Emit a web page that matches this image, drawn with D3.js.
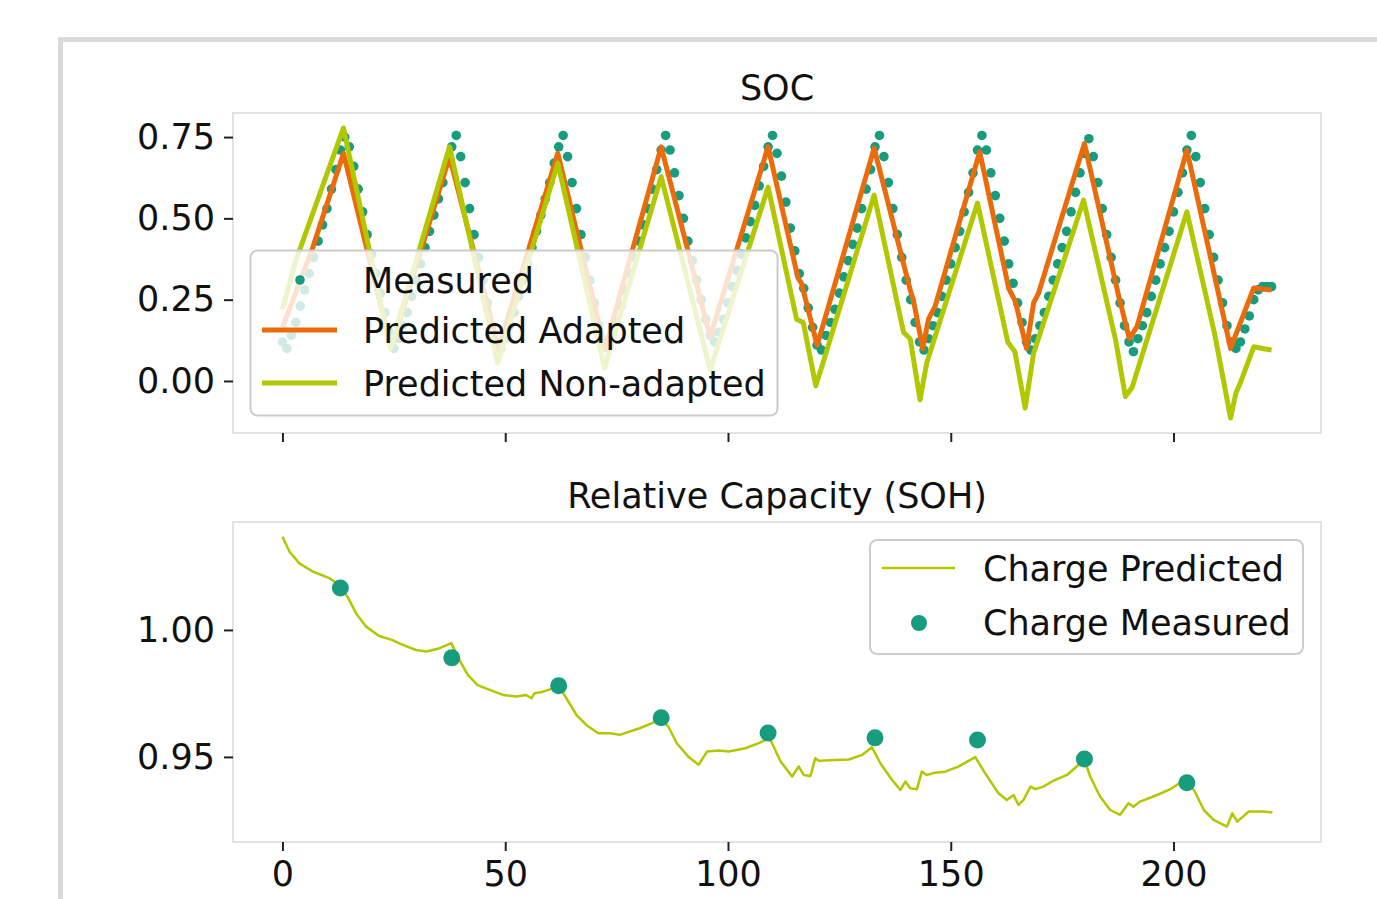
<!DOCTYPE html>
<html>
<head>
<meta charset="utf-8">
<title>SOC and SOH</title>
<script src="https://cdn.jsdelivr.net/npm/d3@7"></script>
<style>
  body { margin: 0; background: #fff; }
  svg { display: block; font-family: "DejaVu Sans", sans-serif; }
</style>
</head>
<body>
<svg id="chart" width="1377" height="899"></svg>
<script>
// measured SOC, one dot per step (array index = step)
var socMeasured = [
  0.12, 0.10, 0.14, 0.18, 0.23, 0.28, 0.33, 0.38, 0.43, 0.48, 0.53, 0.59,
  0.65, 0.71, 0.75, 0.72, 0.66, 0.59, 0.52, 0.45, 0.39, 0.33, 0.27, 0.21,
  0.15, 0.10, 0.13, 0.17, 0.21, 0.26, 0.31, 0.36, 0.41, 0.46, 0.51, 0.56,
  0.61, 0.67, 0.72, 0.755, 0.69, 0.61, 0.53, 0.45, 0.38, 0.31, 0.24, 0.17,
  0.12, 0.10, 0.13, 0.17, 0.21, 0.26, 0.31, 0.36, 0.41, 0.46, 0.51, 0.56,
  0.61, 0.67, 0.72, 0.755, 0.69, 0.61, 0.53, 0.45, 0.38, 0.31, 0.24, 0.17,
  0.12, 0.10, 0.14, 0.18, 0.23, 0.28, 0.33, 0.38, 0.43, 0.48, 0.53, 0.59,
  0.65, 0.71, 0.755, 0.71, 0.64, 0.57, 0.50, 0.43, 0.37, 0.31, 0.25, 0.19,
  0.14, 0.12, 0.15, 0.19, 0.24, 0.29, 0.34, 0.39, 0.44, 0.49, 0.54, 0.60,
  0.66, 0.72, 0.755, 0.70, 0.63, 0.55, 0.47, 0.40, 0.33, 0.285, 0.225, 0.165,
  0.11, 0.095, 0.14, 0.18, 0.22, 0.27, 0.32, 0.37, 0.42, 0.47, 0.53, 0.59,
  0.65, 0.72, 0.755, 0.69, 0.61, 0.53, 0.45, 0.38, 0.31, 0.25, 0.18, 0.12,
  0.095, 0.13, 0.17, 0.21, 0.26, 0.31, 0.36, 0.41, 0.46, 0.52, 0.58, 0.64,
  0.71, 0.755, 0.71, 0.64, 0.57, 0.50, 0.43, 0.36, 0.30, 0.24, 0.18, 0.12,
  0.095, 0.13, 0.17, 0.21, 0.26, 0.31, 0.36, 0.41, 0.46, 0.52, 0.58, 0.64,
  0.70, 0.745, 0.69, 0.61, 0.53, 0.45, 0.38, 0.31, 0.24, 0.17, 0.12, 0.09,
  0.13, 0.17, 0.21, 0.26, 0.31, 0.36, 0.41, 0.46, 0.52, 0.58, 0.64, 0.71,
  0.755, 0.69, 0.61, 0.53, 0.45, 0.38, 0.31, 0.24, 0.17, 0.12, 0.10, 0.12,
  0.16, 0.20, 0.25, 0.28, 0.29, 0.29, 0.29
];

// predicted SOC lines, [step, soc] vertices
var socAdapted = [
  [0, 0.165], [6.8, 0.41], [13.7, 0.70], [24.4, 0.10], [37.5, 0.69], [48.5, 0.10],
  [61.8, 0.70], [72.4, 0.10], [85, 0.72], [96, 0.136], [109, 0.72], [115.7, 0.317],
  [116.5, 0.30], [120, 0.11], [121.3, 0.17], [132.8, 0.716], [140.9, 0.28], [141.6, 0.25],
  [143.7, 0.10], [145, 0.19], [146.5, 0.23], [156.5, 0.705], [163, 0.285], [164.5, 0.245],
  [167, 0.10], [168.6, 0.24], [169.7, 0.27], [180, 0.73], [187.7, 0.26], [190.1, 0.13],
  [191.8, 0.167], [203, 0.71], [212.8, 0.10], [218, 0.286], [222, 0.28]
];
var socNonAdapted = [
  [0, 0.22], [3, 0.37], [13.7, 0.778], [24.2, 0.10], [37.5, 0.72], [48.3, 0.055],
  [61.8, 0.67], [72.3, 0.04], [85, 0.628], [96, 0.034], [109, 0.596], [115.4, 0.19],
  [116.9, 0.18], [119.7, -0.015], [121.2, 0.05], [132.8, 0.572], [139.4, 0.15], [140.9, 0.13],
  [143.1, -0.058], [144.6, 0.055], [156, 0.547], [162.8, 0.12], [164.4, 0.09], [166.7, -0.083],
  [168.6, 0.085], [179.8, 0.556], [187, 0.126], [189.2, -0.048], [190.7, -0.02], [203, 0.52],
  [209.3, 0.14], [212.8, -0.114], [214, -0.037], [215, -0.006], [218, 0.105], [220, 0.10],
  [222, 0.095]
];

// relative capacity
var sohPredicted = [
  [0, 1.0367], [1.6, 1.0308], [3.8, 1.0262], [6.8, 1.023], [10.5, 1.0204], [12.8, 1.0177],
  [14.6, 1.0131], [16.5, 1.0066], [18.8, 1.0013], [21.7, 0.9976], [24.7, 0.996], [27, 0.9941],
  [30, 0.9921], [32.3, 0.9915], [35.3, 0.9928], [37.9, 0.9948], [39.7, 0.9882], [41.6, 0.9823],
  [43.8, 0.9783], [46.5, 0.9764], [49.5, 0.9744], [52.5, 0.9738], [54.7, 0.9744], [55.9, 0.9731],
  [56.6, 0.9751], [58.5, 0.9757], [61.9, 0.9777], [63, 0.9752], [66, 0.9665], [68.2, 0.9626],
  [70.9, 0.9593], [73.5, 0.9593], [75.7, 0.9587], [80.2, 0.9613], [84.7, 0.9646], [86.6, 0.962],
  [88.5, 0.9554], [91.1, 0.9501], [93.4, 0.9469], [95.3, 0.9521], [97.9, 0.9525], [100.2, 0.9521],
  [103.9, 0.9534], [106.9, 0.9554], [109.2, 0.9574], [109.9, 0.9554], [111.8, 0.9482], [114.4, 0.9423],
  [115.9, 0.9462], [117, 0.9429], [118.5, 0.9425], [119.6, 0.9495], [120.4, 0.9485], [124.1, 0.9488],
  [127.1, 0.949], [130.1, 0.9508], [132.3, 0.9538], [134.2, 0.9475], [136.8, 0.941], [138.7, 0.937],
  [139.8, 0.9403], [140.9, 0.9377], [142.4, 0.9373], [143.5, 0.9442], [144.6, 0.9429], [146.5, 0.9438],
  [148.8, 0.9442], [151.7, 0.9462], [155.5, 0.9499], [157.7, 0.9436], [160.7, 0.9357], [162.6, 0.933],
  [164.1, 0.935], [165.2, 0.9311], [166.3, 0.933], [167.9, 0.9383], [169, 0.9373], [170.8, 0.9383],
  [173.1, 0.9407], [176.1, 0.9429], [179.1, 0.9475], [180.2, 0.9478], [181.3, 0.9423], [183.5, 0.9344],
  [185.8, 0.9291], [188, 0.9272], [189.9, 0.9318], [191, 0.9304], [192.5, 0.9324], [196.3, 0.935],
  [199.3, 0.9373], [201.9, 0.9403], [204.6, 0.937], [206.8, 0.9291], [209, 0.9252], [212, 0.9226],
  [213.2, 0.9278], [214.3, 0.9245], [216.9, 0.9285], [220.3, 0.9285], [222.2, 0.9281]
];
var sohMeasuredX = [13, 38, 62, 85, 109, 133, 156, 180, 203];
var sohMeasured = [1.0165, 0.989, 0.978, 0.9654, 0.9594, 0.9575, 0.9567, 0.9492, 0.9398];

var xTicks = [0, 50, 100, 150, 200];
var socTicks = [0, 0.25, 0.5, 0.75];
var sohTicks = [0.95, 1.0];

var teal = "#179c7d", orange = "#eb6a0a", lime = "#b1c800";
var fs = 35;

var svg = d3.select("#chart");

// outer frame
svg.append("path")
  .attr("d", "M60.5,899 V39.5 H1377")
  .attr("fill", "none").attr("stroke", "#dadada").attr("stroke-width", 5);

var left = 233, right = 1321;
var x = d3.scaleLinear().domain([-11.1, 233.1]).range([left, right]);
var ySoc = d3.scaleLinear().domain([-0.16, 0.824]).range([433, 113]);
var ySoh = d3.scaleLinear().domain([0.9165, 1.0425]).range([842, 522]);

function frame(top, bottom, yScale, yTicks, showX) {
  var g = svg.append("g");
  g.append("rect").attr("x", left).attr("y", top)
    .attr("width", right - left).attr("height", bottom - top)
    .attr("fill", "none").attr("stroke", "#e2e2e2").attr("stroke-width", 2);

  var ya = g.append("g").attr("transform", "translate(" + left + ",0)")
    .call(d3.axisLeft(yScale).tickValues(yTicks).tickFormat(d3.format(".2f"))
      .tickSize(9).tickPadding(9));
  var xa = g.append("g").attr("transform", "translate(0," + bottom + ")")
    .call(d3.axisBottom(x).tickValues(xTicks).tickFormat(showX ? d3.format("d") : "")
      .tickSize(9).tickPadding(10));
  [ya, xa].forEach(function (a) {
    a.select(".domain").remove();
    a.selectAll("line").attr("stroke", "#222").attr("stroke-width", 2);
    a.selectAll("text").attr("fill", "#111")
      .style("font-size", fs + "px").style("font-family", "DejaVu Sans");
  });
  return g;
}

frame(113, 433, ySoc, socTicks, false);
frame(522, 842, ySoh, sohTicks, true);

svg.append("text").attr("x", 777).attr("y", 100).attr("text-anchor", "middle")
  .style("font-size", fs + "px").attr("fill", "#111").text("SOC");
svg.append("text").attr("x", 777).attr("y", 508).attr("text-anchor", "middle")
  .style("font-size", fs + "px").attr("fill", "#111").text("Relative Capacity (SOH)");

// SOC panel
var line = d3.line().x(function (d) { return x(d[0]); });

svg.append("g").selectAll("circle")
  .data(socMeasured)
  .enter().append("circle")
  .attr("cx", function (d, i) { return x(i); })
  .attr("cy", function (d) { return ySoc(d); })
  .attr("r", 4.8)
  .attr("fill", teal);

svg.append("path").datum(socAdapted)
  .attr("d", line.y(function (d) { return ySoc(d[1]); }))
  .attr("fill", "none").attr("stroke", orange).attr("stroke-width", 5)
  .attr("stroke-linejoin", "round");
svg.append("path").datum(socNonAdapted)
  .attr("d", line.y(function (d) { return ySoc(d[1]); }))
  .attr("fill", "none").attr("stroke", lime).attr("stroke-width", 5)
  .attr("stroke-linejoin", "round");

// SOH panel
svg.append("path").datum(sohPredicted)
  .attr("d", d3.line().x(function (d) { return x(d[0]); }).y(function (d) { return ySoh(d[1]); }))
  .attr("fill", "none").attr("stroke", lime).attr("stroke-width", 2.5)
  .attr("stroke-linejoin", "round");

svg.append("g").selectAll("circle")
  .data(sohMeasured)
  .enter().append("circle")
  .attr("cx", function (d, i) { return x(sohMeasuredX[i]); })
  .attr("cy", function (d) { return ySoh(d); })
  .attr("r", 8.5)
  .attr("fill", teal);

// legends
function legendBox(x0, y0, w, h) {
  svg.append("rect").attr("x", x0).attr("y", y0).attr("width", w).attr("height", h)
    .attr("rx", 7).attr("fill", "#fff").attr("fill-opacity", 0.8)
    .attr("stroke", "#cccccc").attr("stroke-width", 2);
}
function legendText(x0, yc, s) {
  svg.append("text").attr("x", x0).attr("y", yc + 12.5)
    .style("font-size", fs + "px").attr("fill", "#111").text(s);
}

legendBox(250.5, 250.5, 527, 165);
svg.append("circle").attr("cx", 300).attr("cy", 280).attr("r", 4.8).attr("fill", teal);
legendText(363, 280, "Measured");
svg.append("line").attr("x1", 262).attr("x2", 337).attr("y1", 330).attr("y2", 330)
  .attr("stroke", orange).attr("stroke-width", 5);
legendText(363, 330, "Predicted Adapted");
svg.append("line").attr("x1", 262).attr("x2", 337).attr("y1", 383).attr("y2", 383)
  .attr("stroke", lime).attr("stroke-width", 5);
legendText(363, 383, "Predicted Non-adapted");

legendBox(870, 540, 433, 114);
svg.append("line").attr("x1", 882).attr("x2", 955).attr("y1", 568).attr("y2", 568)
  .attr("stroke", lime).attr("stroke-width", 2.5);
legendText(983, 568, "Charge Predicted");
svg.append("circle").attr("cx", 919).attr("cy", 623).attr("r", 8).attr("fill", teal);
legendText(983, 622, "Charge Measured");
</script>
</body>
</html>
